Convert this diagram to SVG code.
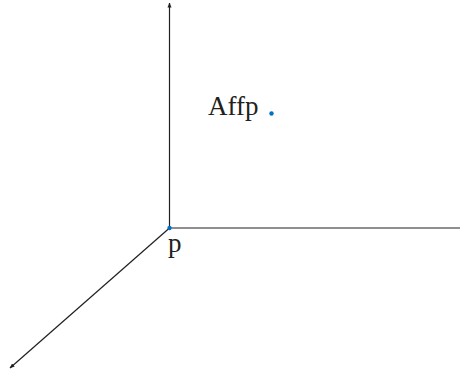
<svg xmlns="http://www.w3.org/2000/svg" width="460" height="371" viewBox="0 0 460 371">
<style>
.ax{stroke:#231f20;stroke-width:1.2;fill:none}
.lb{font-family:"Liberation Serif","Times New Roman",serif;fill:#231f20}
</style>
<defs>
<marker id="ah" viewBox="0 0 10 10" refX="9" refY="5" markerWidth="5" markerHeight="5" orient="auto" markerUnits="userSpaceOnUse"><path d="M0,1 L10,5 L0,9 Z" fill="#231f20"/></marker>
</defs>
<rect width="460" height="371" fill="#fff"/>
<g id="connectors">
<line class="ax" x1="169.5" y1="228" x2="169.5" y2="3" marker-end="url(#ah)"/>
<line class="ax" x1="169.5" y1="228" x2="460" y2="228"/>
<line class="ax" x1="169.5" y1="228" x2="10" y2="368" marker-end="url(#ah)"/>
</g>
<g id="origin">
<circle cx="169.5" cy="228" r="2.2" fill="#0072c6"/>
<text class="lb" x="168" y="252" font-size="27">p</text>
</g>
<g id="affp">
<text class="lb" x="208" y="115" font-size="27">Affp</text>
<circle cx="271.5" cy="113.5" r="2.2" fill="#0072c6"/>
</g>
</svg>
